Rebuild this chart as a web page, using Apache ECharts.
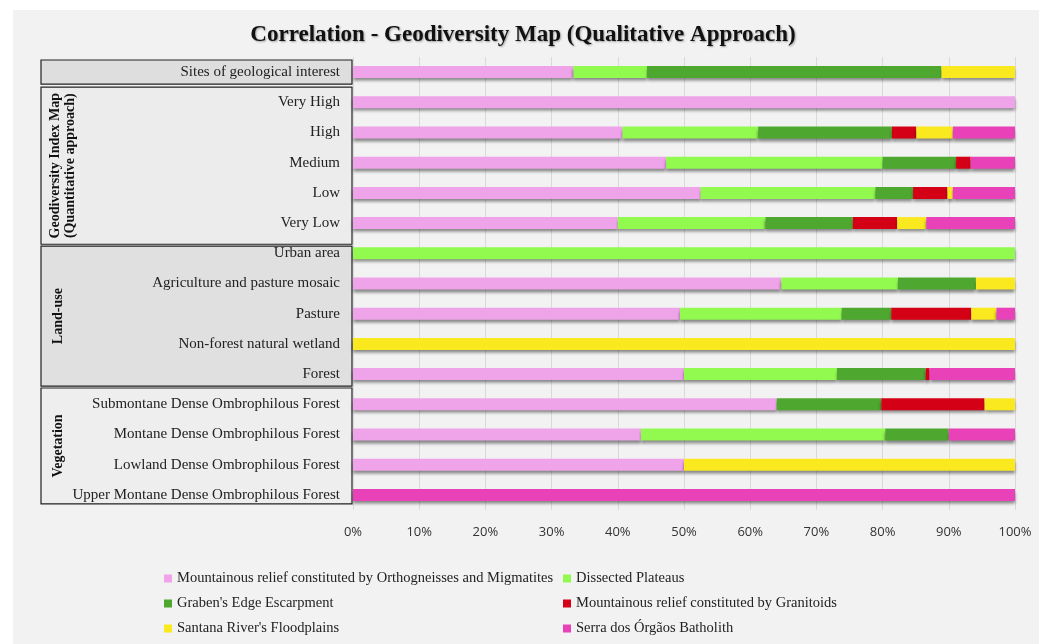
<!DOCTYPE html>
<html>
<head>
<meta charset="utf-8">
<script src="https://cdn.jsdelivr.net/npm/echarts@6/dist/echarts.min.js"></script>
<style>
  html, body { margin: 0; padding: 0; background: #fff; }
  #panel { position: absolute; left: 13px; top: 10px; width: 1026px; height: 634px; background: #f2f2f2; }
  #chart { position: absolute; left: 0; top: 0; width: 1046px; height: 644px; }
</style>
</head>
<body>
<div id="panel"></div>
<div id="chart"></div>
<script>
const categories = [
  'Sites of geological interest',
  'Very High', 'High', 'Medium', 'Low', 'Very Low',
  'Urban area', 'Agriculture and pasture mosaic', 'Pasture', 'Non-forest natural wetland', 'Forest',
  'Submontane Dense Ombrophilous Forest', 'Montane Dense Ombrophilous Forest',
  'Lowland Dense Ombrophilous Forest', 'Upper Montane Dense Ombrophilous Forest'
];

const seriesNames = [
  'Mountainous relief constituted by Orthogneisses and Migmatites',
  'Dissected Plateaus',
  "Graben's Edge Escarpment",
  'Mountainous relief constituted by Granitoids',
  "Santana River's Floodplains",
  'Serra dos Órgãos Batholith'
];

// percentages per category, top to bottom
const orthogneiss = [33.3, 100, 40.7, 47.3, 52.5, 40.0, 0, 64.7, 49.4, 0, 50.0, 64.0, 43.5, 50, 0];
const dissected   = [11.1, 0, 20.5, 32.7, 26.4, 22.3, 100, 17.6, 24.4, 0, 23.1, 0, 36.9, 0, 0];
const graben      = [44.5, 0, 20.2, 11.1, 5.7, 13.2, 0, 11.8, 7.5, 0, 13.4, 15.8, 9.6, 0, 0];
const granitoids  = [0, 0, 3.7, 2.2, 5.2, 6.7, 0, 0, 12.1, 0, 0.6, 15.6, 0, 0, 0];
const floodplains = [11.1, 0, 5.5, 0, 0.8, 4.4, 0, 5.9, 3.8, 100, 0, 4.6, 0, 50, 0];
const batholith   = [0, 0, 9.4, 6.7, 9.4, 13.4, 0, 0, 2.8, 0, 12.9, 0, 10.0, 0, 100];

const xTicks = [0, 10, 20, 30, 40, 50, 60, 70, 80, 90, 100];

const groups = [
  { label: [], from: 0.1, to: 0.9, fill: '#dedede' },
  { label: ['Geodiversity Index Map', '(Quantitative approach)'], from: 1.0, to: 6.2, fill: '#ececec' },
  { label: ['Land-use'], from: 6.26, to: 10.9, fill: '#e0e0e0' },
  { label: ['Vegetation'], from: 10.96, to: 14.8, fill: '#eeeeee' }
];

const colors = ['#efa3e9', '#92f94e', '#4ea72e', '#d40015', '#fbe920', '#e942b9'];
const values = [orthogneiss, dissected, graben, granitoids, floodplains, batholith];

const serif = '"Liberation Serif", "DejaVu Serif", serif';

const chart = echarts.init(document.getElementById('chart'));

chart.setOption({
  backgroundColor: 'transparent',
  animation: false,
  color: colors,
  title: {
    text: 'Correlation - Geodiversity Map (Qualitative Approach)',
    left: 'center',
    top: 19,
    textStyle: {
      fontFamily: serif,
      fontSize: 23,
      fontWeight: 'bold',
      color: '#111',
      textShadowColor: 'rgba(0,0,0,0.35)',
      textShadowBlur: 2,
      textShadowOffsetX: 1,
      textShadowOffsetY: 1
    }
  },
  legend: [
    {
      orient: 'vertical',
      left: 159,
      top: 566,
      itemWidth: 8,
      itemHeight: 8,
      itemGap: 10,
      icon: 'rect',
      textStyle: { fontFamily: serif, fontSize: 14.5, color: '#222' },
      data: [seriesNames[0], seriesNames[2], seriesNames[4]]
    },
    {
      orient: 'vertical',
      left: 558,
      top: 566,
      itemWidth: 8,
      itemHeight: 8,
      itemGap: 10,
      icon: 'rect',
      textStyle: { fontFamily: serif, fontSize: 14.5, color: '#222' },
      data: [seriesNames[1], seriesNames[3], seriesNames[5]]
    }
  ],
  grid: { left: 353, right: 31, top: 57, bottom: 134 },
  xAxis: {
    type: 'value',
    min: 0,
    max: 100,
    interval: 10,
    axisLine: { show: false },
    axisTick: { show: false },
    splitLine: { lineStyle: { color: '#d9d9d9', width: 1 } },
    axisLabel: {
      margin: 16,
      fontFamily: '"Open Sans", "Noto Sans", sans-serif',
      fontSize: 13,
      color: '#333',
      formatter: v => xTicks.includes(v) ? v + '%' : ''
    }
  },
  yAxis: {
    type: 'category',
    inverse: true,
    data: categories,
    z: 10,
    axisLine: { show: false },
    axisTick: { show: false },
    axisLabel: {
      margin: 13,
      fontFamily: serif,
      fontSize: 15,
      color: '#222'
    }
  },
  series: seriesNames.map((name, i) => ({
    name,
    type: 'bar',
    stack: 'total',
    barWidth: 12,
    data: values[i],
    itemStyle: {
      color: colors[i],
      shadowColor: 'rgba(0,0,0,0.45)',
      shadowBlur: 3,
      shadowOffsetY: 3
    },
    emphasis: { disabled: true }
  }))
});

// group boxes on the left, placed from the category axis
const y0 = chart.convertToPixel({ yAxisIndex: 0 }, 0);
const y1 = chart.convertToPixel({ yAxisIndex: 0 }, 1);
const step = y1 - y0;
const bandTop = y0 - step / 2;
const boxLeft = 41;
const boxRight = 352;

const graphics = [];
groups.forEach(g => {
  const top = bandTop + g.from * step;
  const bottom = bandTop + g.to * step;
  graphics.push({
    type: 'rect',
    z: 1,
    shape: { x: boxLeft, y: top, width: boxRight - boxLeft, height: bottom - top },
    style: { fill: g.fill, stroke: '#222', lineWidth: 1.2 }
  });
  const mid = (top + bottom) / 2;
  g.label.forEach((line, k) => {
    const x = g.label.length > 1 ? 55 + k * 15 : 58;
    graphics.push({
      type: 'text',
      z: 2,
      x: x,
      y: mid,
      rotation: Math.PI / 2,
      style: {
        text: line,
        font: 'bold 14px ' + serif,
        fill: '#111',
        align: 'center',
        verticalAlign: 'middle'
      }
    });
  });
});

chart.setOption({ graphic: graphics });
</script>
</body>
</html>
